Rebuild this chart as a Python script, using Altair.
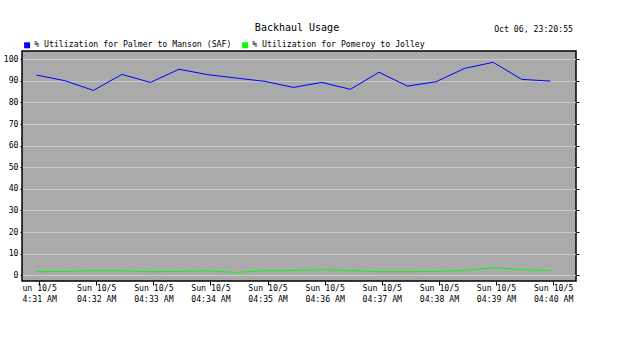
import altair as alt
import pandas as pd

MONO = "DejaVu Sans Mono"

TITLE = "Backhaul Usage"
STAMP = "Oct 06, 23:20:55"
SERIES = ["% Utilization for Palmer to Manson (SAF)", "% Utilization for Pomeroy to Jolley"]
COLORS = ["#0000ff", "#00ff00"]

TIMES = ["04:30:57", "04:31:27", "04:31:57", "04:32:27", "04:32:57", "04:33:27",
         "04:33:57", "04:34:27", "04:34:57", "04:35:27", "04:35:57", "04:36:27",
         "04:36:57", "04:37:27", "04:37:57", "04:38:27", "04:38:57", "04:39:27",
         "04:39:57"]
PALMER = [92.7, 90.1, 85.6, 93.0, 89.3, 95.4, 92.9, 91.3, 89.8, 87.0,
          89.3, 86.1, 94.0, 87.6, 89.6, 95.8, 98.6, 90.7, 89.9]
POMEROY = [1.7, 1.8, 2.2, 2.1, 1.7, 1.8, 2.1, 1.3, 2.2, 2.25,
           2.6, 2.2, 1.7, 1.7, 1.8, 2.3, 3.5, 2.6, 2.2]

TICK_TIMES = ["04:31:00", "04:32:00", "04:33:00", "04:34:00", "04:35:00",
              "04:36:00", "04:37:00", "04:38:00", "04:39:00", "04:40:00"]
TICK_TOP = ["\u00a0un 10/5", "Sun 10/5", "Sun 10/5", "Sun 10/5", "Sun 10/5",
            "Sun 10/5", "Sun 10/5", "Sun 10/5", "Sun 10/5", "Sun 10/5"]
TICK_BOTTOM = ["\u00a04:31 AM", "04:32 AM", "04:33 AM", "04:34 AM", "04:35 AM",
               "04:36 AM", "04:37 AM", "04:38 AM", "04:39 AM", "04:40 AM"]
Y_TICKS = [0, 10, 20, 30, 40, 50, 60, 70, 80, 90, 100]
X_DOMAIN = ["04:30:42", "04:40:24"]
Y_DOMAIN = [-2.64, 103.84]


def secs(s):
    h, m, x = map(int, s.split(":"))
    return h * 3600 + m * 60 + x - (4 * 3600 + 30 * 60)


df = pd.DataFrame({
    "sec": [secs(t) for t in TIMES] * 2,
    "value": PALMER + POMEROY,
    "series": [SERIES[0]] * len(TIMES) + [SERIES[1]] * len(TIMES),
})

tick_secs = [secs(t) for t in TICK_TIMES]
first = tick_secs[0]
step = tick_secs[1] - tick_secs[0]
label_rows = ",".join("['%s','%s']" % (a, b) for a, b in zip(TICK_TOP, TICK_BOTTOM))
label_expr = "[%s][round((datum.value - %d) / %d)]" % (label_rows, first, step)

x_enc = alt.X(
    "sec:Q",
    scale=alt.Scale(domain=[secs(t) for t in X_DOMAIN], nice=False, zero=False),
    axis=alt.Axis(values=tick_secs, grid=False, domain=False, ticks=True, tickSize=4,
                  tickColor="black", tickWidth=1, labelExpr=label_expr, labelFont=MONO,
                  labelFontSize=8.2, labelColor="black", labelLineHeight=11,
                  labelPadding=-1, labelOverlap=False, labelFlush=False,
                  labelBaseline="top", title=None),
)

y_scale = alt.Scale(domain=Y_DOMAIN, nice=False, zero=False)

color_enc = alt.Color(
    "series:N",
    scale=alt.Scale(domain=SERIES, range=COLORS),
    legend=alt.Legend(orient="none", legendX=1, legendY=-10, direction="horizontal",
                      title=None, symbolType="square", symbolSize=9, symbolStrokeWidth=3,
                      labelFont=MONO, labelFontSize=8.2, labelColor="black",
                      labelLimit=400, columnPadding=5, padding=0, labelOffset=3),
)

base = alt.Chart(df)

blue = base.transform_filter(alt.datum.series == SERIES[0]).mark_line(strokeWidth=1).encode(
    x=x_enc,
    y=alt.Y("value:Q", scale=y_scale,
            axis=alt.Axis(values=Y_TICKS, grid=True, gridColor="#c8c8c8", gridWidth=1,
                          domain=False, ticks=True, tickSize=2, tickColor="black",
                          labelFont=MONO, labelFontSize=8.2, labelColor="black",
                          labelPadding=2, title=None)),
    color=color_enc,
)

green = base.transform_filter(alt.datum.series == SERIES[1]).mark_line(strokeWidth=1).encode(
    x=x_enc,
    y=alt.Y("value:Q", scale=y_scale,
            axis=alt.Axis(orient="right", values=Y_TICKS, grid=False, labels=False,
                          domain=False, ticks=True, tickSize=3, tickColor="black",
                          title=None)),
    color=color_enc,
)

title_text = alt.Chart(pd.DataFrame({"t": [TITLE]})).mark_text(
    font=MONO, fontSize=10, align="center", baseline="alphabetic", color="black"
).encode(text="t:N", x=alt.value(275), y=alt.value(-20))

stamp_text = alt.Chart(pd.DataFrame({"t": [STAMP]})).mark_text(
    font=MONO, fontSize=8.2, align="right", baseline="alphabetic", color="black"
).encode(text="t:N", x=alt.value(551), y=alt.value(-19))

chart = alt.layer(blue, green, title_text, stamp_text).resolve_axis(
    y="independent"
).properties(
    width=554,
    height=230,
    autosize=alt.AutoSizeParams(type="none"),
    padding={"left": 22, "top": 51, "right": 50, "bottom": 62},
    background="white",
).configure_view(
    fill="#aaaaaa", stroke="black", strokeWidth=1.5
)

chart.save("out.html", embed_options={"renderer": "svg", "actions": False})
